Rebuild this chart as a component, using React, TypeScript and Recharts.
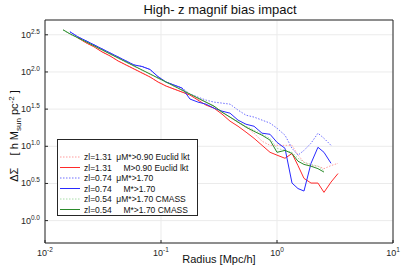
import { LineChart, Line, XAxis, YAxis, CartesianGrid, ReferenceArea } from 'recharts';

const radius = [0.0143, 0.0164, 0.0192, 0.0226, 0.0265, 0.031, 0.0363, 0.0426, 0.0499, 0.0585, 0.0686, 0.0804, 0.0942, 0.1104, 0.1294, 0.1517, 0.1778, 0.2084, 0.2443, 0.2864, 0.3357, 0.3936, 0.4613, 0.5408, 0.6339, 0.7431, 0.871, 1.0, 1.172, 1.347, 1.517, 1.709, 1.965, 2.255, 2.541, 2.922, 3.357];

const euclidMu = [null, null, 288, 246.5, 217.7, 186.3, 164.5, 140.8, 124.3, 109.8, 96.9, 85.6, 73.3, 64.7, 58.9, 53.7, 48.9, 43.2, 39.3, 34.7, 28.8, 24.7, 21.1, 18.1, 15.0, 11.7, 10.3, 10.3, 10.3, 10.3, 7.6, 6.1, 5.5, 5.4, 5.0, 5.5, 5.9];
const euclidM = [null, null, 288, 246.5, 217.7, 186.3, 164.5, 140.8, 124.3, 109.8, 96.9, 85.6, 73.3, 64.7, 58.9, 53.7, 48.9, 41.8, 35.8, 32.6, 27.1, 21.8, 18.6, 15.5, 12.8, 10.3, 8.3, 7.6, 6.9, 8.0, 5.5, 3.7, 3.2, 3.2, 2.4, 3.3, 4.3];
const z074Mu = [null, 347, 297, 262.4, 231.7, 204.6, 180.6, 159.5, 140.8, 124.3, 118.5, 108, 86.5, 73.3, 66.7, 60.8, 50.4, 45.9, 41.8, 39.3, 38.1, 36.9, 30.7, 26.2, 24.7, 22.5, 20.5, 17.5, 14.1, 9.4, 7.6, 8.8, 11.0, 15.0, 12.8, 10.3, null];
const z074M = [null, 347, 297, 262.4, 231.7, 204.6, 180.6, 159.5, 140.8, 124.3, 118.5, 108, 86.5, 73.3, 66.7, 60.8, 43.2, 39.3, 36.9, 32.6, 29.7, 27.9, 22.5, 19.8, 18.6, 15.0, 14.5, 11.3, 9.4, 3.2, 2.7, 2.5, 5.9, 9.7, 8.3, 5.9, null];
const cmassMu = [365, 322, 285, 252, 222, 197, 174, 153, 135, 119.5, 105.5, 93.3, 82.4, 72.8, 64.2, 56.7, 50.0, 44.2, 39.0, 34.3, 28.5, 24.5, 21.8, 18.6, 16.5, 14.5, 12.8, 9.4, 8.8, 8.3, 6.9, 6.1, 5.7, 5.4, 4.7, null, null];
const cmassM = [369.5, 326, 288, 254.3, 224.6, 198.3, 175.1, 154.6, 136.5, 120.5, 106.4, 94.0, 83.0, 73.3, 64.7, 57.1, 50.4, 44.5, 39.3, 34.7, 28.8, 24.7, 21.1, 18.1, 15.9, 14.1, 12.1, 8.3, 8.8, 8.0, 6.3, 5.7, 5.4, 5.0, 4.5, null, null];

const xTicks = [0.01, 0.1, 1, 10];
const xTickExp = ['-2', '-1', '0', '1'];
const yTicks = [1, 3.1623, 10, 31.623, 100, 316.23];
const yTickExp = ['0.0', '0.5', '1.0', '1.5', '2.0', '2.5'];

const seriesInfo = [
  { key: 'euclidMu', values: euclidMu, color: '#ff9c9c', dash: '1.5 1.5', label: 'zl=1.31  \u03bcM*>0.90 Euclid lkt' },
  { key: 'euclidM', values: euclidM, color: '#ff2a2a', dash: undefined, label: 'zl=1.31     M>0.90 Euclid lkt' },
  { key: 'z074Mu', values: z074Mu, color: '#6f6fff', dash: '1.5 1.5', label: 'zl=0.74  \u03bcM*>1.70' },
  { key: 'z074M', values: z074M, color: '#2a2aff', dash: undefined, label: 'zl=0.74     M*>1.70' },
  { key: 'cmassMu', values: cmassMu, color: '#a8dca8', dash: '1.5 1.5', label: 'zl=0.54  \u03bcM*>1.70 CMASS' },
  { key: 'cmassM', values: cmassM, color: '#2a8a2a', dash: undefined, label: 'zl=0.54     M*>1.70 CMASS' },
];

const rows = radius.map((r, i) => {
  const row: Record<string, number | null> = { r };
  seriesInfo.forEach((s) => {
    row[s.key] = s.values[i];
  });
  return row;
});

const font = '"Liberation Sans", Arial, sans-serif';
const ink = '#262626';

const XTick = (props: any) => {
  const { x, y, index } = props;
  return (
    <g>
      <line x1={x} x2={x} y1={y} y2={y - 3} stroke={ink} />
      <text x={x} y={y + 13} textAnchor="middle" fontSize={9} fill={ink} fontFamily={font}>
        10<tspan dy={-4} fontSize={6.5}>{xTickExp[index]}</tspan>
      </text>
    </g>
  );
};

const YTick = (props: any) => {
  const { x, y, index } = props;
  return (
    <g>
      <line x1={x} x2={x + 3} y1={y} y2={y} stroke={ink} />
      <text x={x - 5} y={y + 3} textAnchor="end" fontSize={9} fill={ink} fontFamily={font}>
        10<tspan dy={-4} fontSize={6.5}>{yTickExp[index]}</tspan>
      </text>
    </g>
  );
};

const legendTop = 157;
const legendStep = 10.5;

export default function App() {
  return (
    <div style={{ position: 'absolute', left: 0, top: 0, width: 407, height: 271, background: '#fff' }}>
      <LineChart width={407} height={271} data={rows} margin={{ top: 20, right: 14, bottom: 0, left: 0 }}>
        <CartesianGrid stroke="#ebebeb" />
        <XAxis
          dataKey="r"
          type="number"
          scale="log"
          domain={[0.01, 10]}
          ticks={xTicks}
          allowDataOverflow
          height={28}
          tickSize={0}
          tickMargin={0}
          axisLine={false}
          tickLine={false}
          tick={<XTick />}
          interval={0}
        />
        <YAxis
          type="number"
          scale="log"
          domain={[0.5, 500]}
          ticks={yTicks}
          allowDataOverflow
          width={45}
          tickSize={0}
          tickMargin={0}
          axisLine={false}
          tickLine={false}
          tick={<YTick />}
          interval={0}
        />
        <ReferenceArea x1={0.01} x2={10} y1={0.5} y2={500} fill="none" stroke={ink} strokeWidth={1} ifOverflow="visible" />
        {seriesInfo.map((s) => (
          <Line
            key={s.key}
            dataKey={s.key}
            stroke={s.color}
            strokeWidth={1}
            strokeDasharray={s.dash}
            dot={false}
            isAnimationActive={false}
            connectNulls={false}
          />
        ))}
      </LineChart>
      <svg width={407} height={271} style={{ position: 'absolute', left: 0, top: 0, pointerEvents: 'none' }}>
        <text x={220} y={14} textAnchor="middle" fontSize={13} fill="#111" fontFamily={font}>
          High- z magnif bias impact
        </text>
        <text x={219} y={263} textAnchor="middle" fontSize={11} fill="#111" fontFamily={font}>
          Radius [Mpc/h]
        </text>
        <text transform="translate(18,136) rotate(-90)" textAnchor="middle" fontSize={11} fill="#111" fontFamily={font} style={{ whiteSpace: 'pre' }}>
          {'\u0394\u03a3    [ h M'}
          <tspan dy={2.5} fontSize={8}>sun</tspan>
          <tspan dy={-2.5}> pc</tspan>
          <tspan dy={-4} fontSize={8}>-2</tspan>
          <tspan dy={4}> ]</tspan>
        </text>
        <rect x={57.5} y={139.5} width={140} height={76} fill="#fff" stroke={ink} />
        {seriesInfo.map((s, i) => (
          <g key={s.key}>
            <line x1={60} x2={80} y1={legendTop + i * legendStep} y2={legendTop + i * legendStep} stroke={s.color} strokeDasharray={s.dash} />
            <text x={84} y={legendTop + i * legendStep + 3} fontSize={8.5} fill="#111" fontFamily={font} style={{ whiteSpace: 'pre' }}>
              {s.label}
            </text>
          </g>
        ))}
      </svg>
    </div>
  );
}
